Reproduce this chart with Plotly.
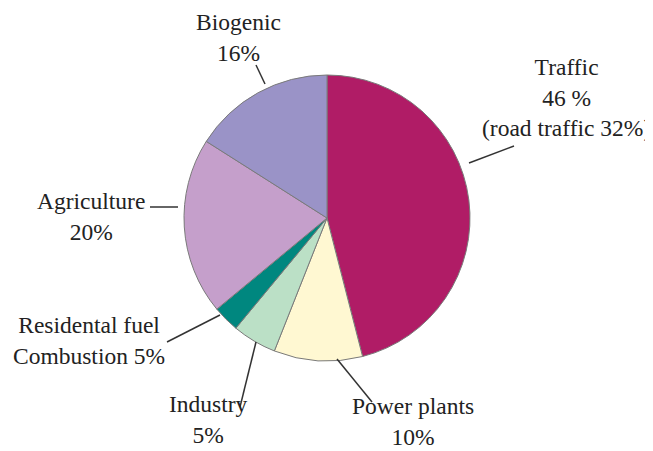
import plotly.graph_objects as go

# page offset (browser default body margin)
OFF = 8
W, H = 653 - OFF, 451 - OFF

# Data
sectors = ["Traffic", "Power plants", "Industry", "Residental fuel Combustion", "Agriculture", "Biogenic"]
shares = [46, 10, 5, 3, 20, 16]
label_texts = [
    "Traffic<br>46 %<br>(road traffic 32%)",
    "Power plants<br>10%",
    "Industry<br>5%",
    "Residental fuel<br>Combustion 5%",
    "Agriculture<br>20%",
    "Biogenic<br>16%",
]
colors = ["#B01C66", "#FFF8D2", "#BBE0C6", "#00877F", "#C59FCB", "#9A93C7"]

# label block centers (pixels) and leader lines (pixels), in screen coordinates
label_pos = [(566, 98), (413, 421), (208, 419), (89, 340), (91, 216), (238, 38)]
leaders = [
    ((469, 163), (514, 146)),
    ((337, 359), (372, 402)),
    ((256, 342), (240, 407)),
    ((220, 315), (167, 342)),
    ((178, 207), (150, 207)),
    ((265, 84), (256, 65)),
]

def px(x):
    return (x - OFF) / W

def py(y):
    return 1 - (y - OFF) / H

fig = go.Figure(
    go.Pie(
        labels=sectors,
        values=shares,
        sort=False,
        direction="clockwise",
        rotation=0,
        marker=dict(colors=colors, line=dict(color="#7a7a7a", width=1)),
        textinfo="none",
        showlegend=False,
        domain=dict(x=[px(183), px(471)], y=[py(361), py(75)]),
    )
)

for txt, (cx, cy) in zip(label_texts, label_pos):
    fig.add_annotation(
        x=px(cx), y=py(cy), xref="paper", yref="paper",
        text=txt, showarrow=False, align="center",
        xanchor="center", yanchor="middle",
        font=dict(family="Liberation Serif", size=23.5, color="#222222"),
    )

for (x0, y0), (x1, y1) in leaders:
    fig.add_shape(
        type="line", xref="paper", yref="paper",
        x0=px(x0), y0=py(y0), x1=px(x1), y1=py(y1),
        line=dict(color="#333333", width=1.5),
    )

fig.update_layout(
    width=W, height=H,
    margin=dict(l=0, r=0, t=0, b=0),
    paper_bgcolor="white",
    plot_bgcolor="white",
)

fig.write_html("out.html")
